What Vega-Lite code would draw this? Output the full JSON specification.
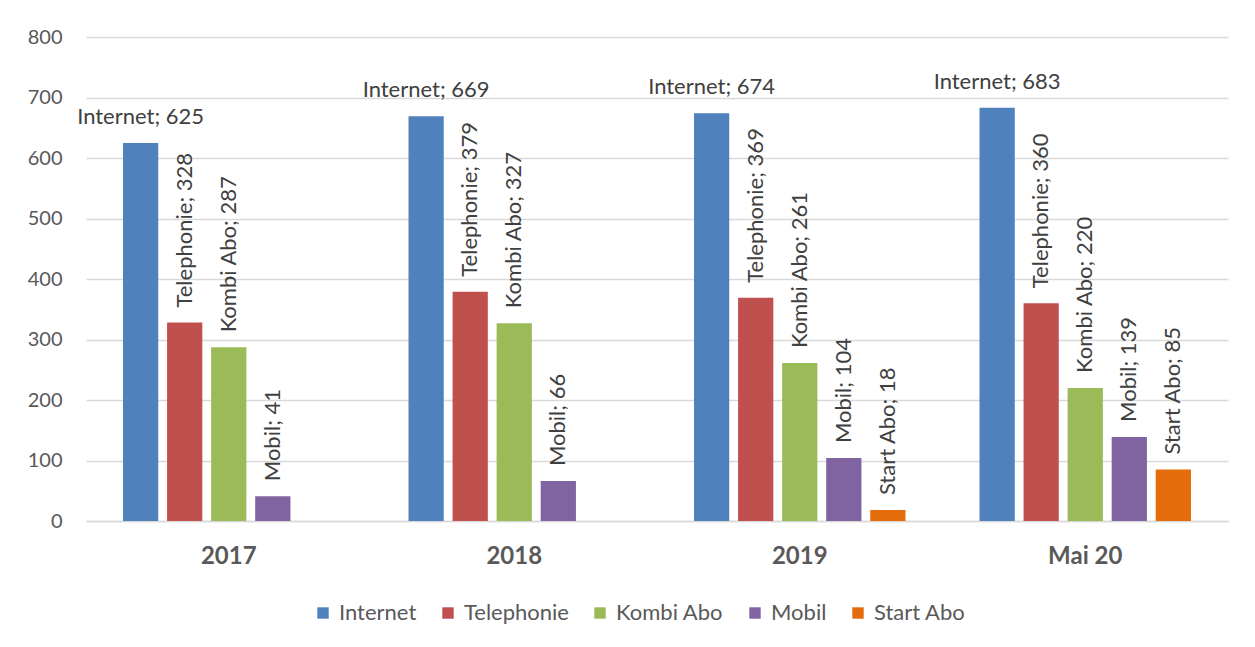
{
  "$schema": "https://vega.github.io/schema/vega-lite/v6.json",
  "width": 1142,
  "height": 484,
  "autosize": "none",
  "padding": {"left": 86, "top": 37, "right": 27, "bottom": 126},
  "background": "white",
  "config": {
    "view": {"stroke": null},
    "font": "Lato"
  },
  "data": {
    "values": [
      {"year": "2017", "series": "Internet", "value": 625},
      {"year": "2017", "series": "Telephonie", "value": 328},
      {"year": "2017", "series": "Kombi Abo", "value": 287},
      {"year": "2017", "series": "Mobil", "value": 41},
      {"year": "2018", "series": "Internet", "value": 669},
      {"year": "2018", "series": "Telephonie", "value": 379},
      {"year": "2018", "series": "Kombi Abo", "value": 327},
      {"year": "2018", "series": "Mobil", "value": 66},
      {"year": "2019", "series": "Internet", "value": 674},
      {"year": "2019", "series": "Telephonie", "value": 369},
      {"year": "2019", "series": "Kombi Abo", "value": 261},
      {"year": "2019", "series": "Mobil", "value": 104},
      {"year": "2019", "series": "Start Abo", "value": 18},
      {"year": "Mai 20", "series": "Internet", "value": 683},
      {"year": "Mai 20", "series": "Telephonie", "value": 360},
      {"year": "Mai 20", "series": "Kombi Abo", "value": 220},
      {"year": "Mai 20", "series": "Mobil", "value": 139},
      {"year": "Mai 20", "series": "Start Abo", "value": 85}
    ]
  },
  "transform": [
    {"calculate": "datum.series + '; ' + datum.value", "as": "label"}
  ],
  "encoding": {
    "x": {
      "field": "year",
      "type": "nominal",
      "sort": ["2017", "2018", "2019", "Mai 20"],
      "scale": {"paddingInner": 0, "paddingOuter": 0},
      "axis": {
        "title": null,
        "labelAngle": 0,
        "labelFontSize": 24,
        "labelFontWeight": "bold",
        "labelColor": "#595959",
        "labelFont": "Lato",
        "labelPadding": 23,
        "ticks": false,
        "domainColor": "#d9d9d9",
        "domainWidth": 1.5
      }
    },
    "xOffset": {
      "field": "series",
      "type": "nominal",
      "sort": ["Internet", "Telephonie", "Kombi Abo", "Mobil", "Start Abo"],
      "scale": {
        "domain": ["Internet", "Telephonie", "Kombi Abo", "Mobil", "Start Abo"],
        "paddingInner": 0.2,
        "paddingOuter": 0.84
      }
    },
    "y": {
      "field": "value",
      "type": "quantitative",
      "scale": {"domain": [0, 800]},
      "axis": {
        "title": null,
        "values": [0, 100, 200, 300, 400, 500, 600, 700, 800],
        "domain": false,
        "ticks": false,
        "labelFontSize": 20,
        "labelColor": "#595959",
        "labelFont": "Lato",
        "labelPadding": 24,
        "gridColor": "#d9d9d9",
        "gridWidth": 1.5
      }
    }
  },
  "layer": [
    {
      "mark": {"type": "bar"},
      "encoding": {
        "color": {
          "field": "series",
          "type": "nominal",
          "scale": {
            "domain": ["Internet", "Telephonie", "Kombi Abo", "Mobil", "Start Abo"],
            "range": ["#4F81BD", "#C0504D", "#9BBB59", "#8064A2", "#E46C0A"]
          },
          "legend": {
            "title": null,
            "orient": "none",
            "direction": "horizontal",
            "legendX": 226,
            "legendY": 565,
            "symbolType": "square",
            "symbolSize": 130,
            "symbolStrokeWidth": 0,
            "labelFontSize": 22,
            "labelColor": "#595959",
            "labelFont": "Lato",
            "labelOffset": 5,
            "columnPadding": 20
          }
        }
      }
    },
    {
      "transform": [{"filter": "datum.series == 'Internet'"}],
      "mark": {"type": "text", "dy": -26, "baseline": "middle", "align": "center", "fontSize": 22, "color": "#404040", "font": "Lato"},
      "encoding": {"text": {"field": "label"}}
    },
    {
      "transform": [{"filter": "datum.series != 'Internet'"}],
      "mark": {"type": "text", "angle": 270, "dx": 15, "baseline": "middle", "align": "left", "fontSize": 22, "color": "#404040", "font": "Lato"},
      "encoding": {"text": {"field": "label"}}
    }
  ]
}
